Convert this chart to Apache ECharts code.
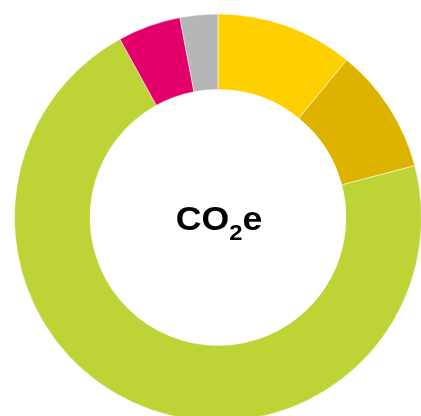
<!DOCTYPE html>
<html><head><meta charset="utf-8">
<script src="https://cdn.jsdelivr.net/npm/echarts@6/dist/echarts.min.js"></script>
<style>html,body{margin:0;padding:0;background:#fff}#c{width:421px;height:416px}</style>
</head><body><div id="c"></div>
<script>
const categories = ['A', 'B', 'C', 'D', 'E'];
const values = [10.9, 10.0, 71.1, 5.0, 3.0];
const colors = ['#FFD000', '#DEB300', '#BED336', '#E4006B', '#B6B6B6'];
const chart = echarts.init(document.getElementById('c'), null, {renderer: 'canvas'});
chart.setOption({
  animation: false,
  series: [{
    type: 'pie',
    center: [218, 217.5],
    radius: [128, 203.5],
    startAngle: 90,
    clockwise: true,
    label: {show: false},
    labelLine: {show: false},
    emphasis: {disabled: true},
    itemStyle: {borderColor: '#fff', borderWidth: 0.5},
    data: categories.map((c, i) => ({name: c, value: values[i], itemStyle: {color: colors[i]}}))
  }],
  graphic: [{
    type: 'text',
    x: 219, y: 222,
    scaleX: 1.08,
    style: {
      text: '{a|CO}{b|2}{a|e}',
      align: 'center',
      verticalAlign: 'middle',
      fill: '#000',
      rich: {
        a: {fontFamily: 'Liberation Sans, Arial', fontWeight: 'bold', fontSize: 33, fill: '#000', padding: [0, 0, 2, 0]},
        b: {fontFamily: 'Liberation Sans, Arial', fontWeight: 'bold', fontSize: 22, fill: '#000', padding: [24, 0, 0, 0]}
      }
    }
  }]
});
</script></body></html>
